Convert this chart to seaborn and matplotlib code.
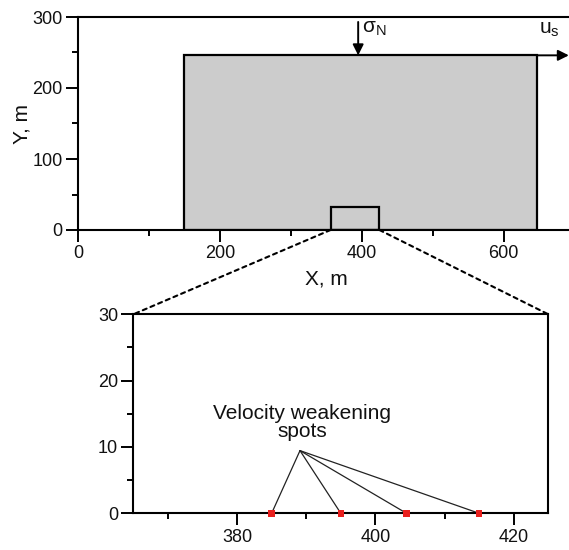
import matplotlib
matplotlib.use("Agg")
import matplotlib.pyplot as plt
from matplotlib.patches import Rectangle, ConnectionPatch
import seaborn as sns
import pandas as pd

sns.set_style("ticks")
plt.rcParams['font.family'] = ['Liberation Sans', 'DejaVu Sans']
plt.rcParams['mathtext.default'] = 'regular'
plt.rcParams['text.color'] = '#111111'
plt.rcParams['axes.labelcolor'] = '#111111'

# ---- data ----
block_x = [150, 647]          # sliding block extent, m
block_y = [0, 246]
zoom_x = [356, 425]           # zoomed region extent, m
zoom_y = [0, 33]
sigma_x = 395                 # normal stress arrow position
top_xticks = [0, 200, 400, 600]
top_yticks = [0, 100, 200, 300]
bot_xticks = [380, 400, 420]
bot_yticks = [0, 10, 20, 30]
spots_x = [385, 395, 404.5, 415]
spots_y = [0, 0, 0, 0]
label_pt = (389.1, 9.45)

spots = pd.DataFrame({"x": spots_x, "y": spots_y})

fig = plt.figure(figsize=(5.69, 5.50), dpi=100)
ax1 = fig.add_axes([78/569, 1-230/550, 700*0.7093/569, 213/550])
ax2 = fig.add_axes([133.3/569, 1-513.3/550, 415/569, 199/550])

lw = 1.5
for ax in (ax1, ax2):
    for s in ax.spines.values():
        s.set_linewidth(lw)
        s.set_color('black')
    ax.tick_params(which='major', length=8.5, width=1.4, labelsize=13, colors='black',
                   labelcolor='#111111', direction='out', pad=2.5)
    ax.tick_params(which='minor', length=4.5, width=1.4, direction='out', colors='black')

# ---- top panel ----
ax1.set_xlim(0, 700)
ax1.set_ylim(0, 300)
ax1.spines['right'].set_visible(False)
ax1.add_patch(Rectangle((block_x[0], block_y[0]), block_x[1]-block_x[0], block_y[1]-block_y[0],
                        facecolor='#cccccc', edgecolor='black', linewidth=1.6, zorder=2))
ax1.add_patch(Rectangle((zoom_x[0], zoom_y[0]), zoom_x[1]-zoom_x[0], zoom_y[1]-zoom_y[0],
                        facecolor='none', edgecolor='black', linewidth=1.6, zorder=3))
ax1.set_xticks(top_xticks)
ax1.set_xticks([100, 300, 500], minor=True)
ax1.set_yticks(top_yticks)
ax1.set_yticks([50, 150, 250], minor=True)
ax1.set_xlabel("X, m", fontsize=15, labelpad=5)
ax1.set_ylabel("Y, m", fontsize=15, labelpad=1)
ax1.annotate("", xy=(sigma_x, block_y[1]), xytext=(sigma_x, 293),
             arrowprops=dict(arrowstyle='-|>', color='black', lw=1.4, mutation_scale=16, shrinkA=0, shrinkB=0),
             zorder=5)
ax1.annotate("", xy=(692, block_y[1]), xytext=(block_x[1], block_y[1]),
             arrowprops=dict(arrowstyle='-|>', color='black', lw=1.4, mutation_scale=16, shrinkA=0, shrinkB=0),
             annotation_clip=False, zorder=5)
ax1.text(sigma_x + 5, 284, "σ$_{N}$", fontsize=15, va='center', ha='left')
ax1.text(650, 282, "u$_{s}$", fontsize=15, va='center', ha='left')

# ---- bottom panel ----
ax2.set_xlim(365, 425)
ax2.set_ylim(0, 30)
ax2.set_xticks(bot_xticks)
ax2.set_xticks([370, 390, 410], minor=True)
ax2.set_yticks(bot_yticks)
ax2.set_yticks([5, 15, 25], minor=True)

for sx, sy in zip(spots_x, spots_y):
    line_df = pd.DataFrame({"x": [label_pt[0], sx], "y": [label_pt[1], sy]})
    sns.lineplot(data=line_df, x="x", y="y", ax=ax2, color='#222222', lw=0.9,
                 sort=False, estimator=None, legend=False)
sns.scatterplot(data=spots, x="x", y="y", ax=ax2, marker='s', s=22, color='#e8201e',
                edgecolor='none', zorder=6, clip_on=False, legend=False)
ax2.text(label_pt[0] + 0.3, 13.7, "Velocity weakening\nspots", fontsize=15, ha='center', va='center',
         linespacing=0.95)
ax2.set_xlabel("")
ax2.set_ylabel("")

# ---- dashed zoom connectors ----
for (xa, xb) in [(zoom_x[0], 365), (zoom_x[1], 425)]:
    con = ConnectionPatch(xyA=(xa, 0), coordsA=ax1.transData, xyB=(xb, 30), coordsB=ax2.transData,
                          linestyle=(0, (2, 2)), linewidth=1.5, color='black')
    fig.add_artist(con)

fig.savefig("out.png", dpi=100)
